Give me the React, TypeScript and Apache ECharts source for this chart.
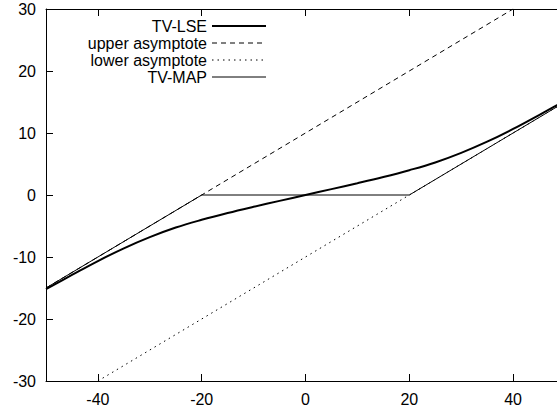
import React, { useEffect, useRef } from "react";
import * as echarts from "echarts";

// TV-LSE curve
const lseX = [-50, -45, -40, -35, -30, -25, -20, -15, -10, -5, 0, 5, 10, 15, 20, 25, 30, 35, 40, 45, 50];
const lseY = [-15.2, -12.9, -10.65, -8.6, -6.8, -5.25, -4.0, -2.9, -1.9, -0.95, 0, 0.95, 1.9, 2.9, 4.0, 5.25, 6.8, 8.6, 10.65, 12.9, 15.2];

// asymptotes
const upperX = [-50, 40];
const upperY = [-15, 30];
const lowerX = [-40, 50];
const lowerY = [-30, 15];

// TV-MAP
const mapX = [-50, -20, 20, 50];
const mapY = [-15, 0, 0, 15];

const xTicks = [-40, -20, 0, 20, 40];
const seriesNames = ["TV-LSE", "upper asymptote", "lower asymptote", "TV-MAP"];
const legendWidths = [2, 1, 1, 1];

const zip = (xs: number[], ys: number[]) => xs.map((x, i) => [x, ys[i]]);

const FONT = "Liberation Sans, Arial, Helvetica, sans-serif";

export default function App() {
  const ref = useRef<HTMLDivElement>(null);
  useEffect(() => {
    if (!ref.current) return;
    const chart = echarts.init(ref.current, null, { renderer: "svg" });
    const axisLine = { show: true, onZero: false, lineStyle: { color: "#000", width: 1 } };
    chart.setOption({
      animation: false,
      backgroundColor: "#fff",
      grid: {
        left: 46,
        top: 9,
        width: 519,
        height: 372,
        containLabel: false,
        outerBoundsMode: "none",
      },
      legend: {
        orient: "vertical",
        align: "right",
        right: 290,
        top: 18,
        padding: 0,
        itemWidth: 54,
        itemHeight: 10,
        itemGap: 1,
        itemStyle: { opacity: 0 },
        textStyle: { fontFamily: FONT, fontSize: 16, color: "#000" },
        data: seriesNames.map((n, i) => ({ name: n, lineStyle: { width: legendWidths[i] } })),
      },
      xAxis: [
        {
          type: "value",
          min: -50,
          max: 50,
          position: "bottom",
          axisLine,
          splitLine: { show: false },
          axisTick: { show: true, inside: true, length: 7, customValues: xTicks, lineStyle: { color: "#000" } },
          axisLabel: { customValues: xTicks, fontFamily: FONT, fontSize: 16, color: "#000", margin: 10 },
        },
        {
          type: "value",
          min: -50,
          max: 50,
          position: "top",
          axisLine,
          splitLine: { show: false },
          axisTick: { show: true, inside: true, length: 7, customValues: xTicks, lineStyle: { color: "#000" } },
          axisLabel: { show: false },
        },
      ],
      yAxis: [
        {
          type: "value",
          min: -30,
          max: 30,
          interval: 10,
          position: "left",
          axisLine,
          splitLine: { show: false },
          axisTick: { show: true, inside: true, length: 7, lineStyle: { color: "#000" } },
          axisLabel: { fontFamily: FONT, fontSize: 16, color: "#000", margin: 10 },
        },
      ],
      series: [
        {
          name: seriesNames[0],
          type: "line",
          data: zip(lseX, lseY),
          smooth: 0.4,
          showSymbol: false,
          symbol: "none",
          lineStyle: { color: "#000", width: 2 },
          itemStyle: { color: "#000" },
          z: 5,
        },
        {
          name: seriesNames[1],
          type: "line",
          data: zip(upperX, upperY),
          symbol: "none",
          lineStyle: { color: "#000", width: 1, type: [5, 4] },
          itemStyle: { color: "#000" },
        },
        {
          name: seriesNames[2],
          type: "line",
          data: zip(lowerX, lowerY),
          symbol: "none",
          lineStyle: { color: "#000", width: 1, type: [1.5, 4] },
          itemStyle: { color: "#000" },
        },
        {
          name: seriesNames[3],
          type: "line",
          data: zip(mapX, mapY),
          symbol: "none",
          lineStyle: { color: "#000", width: 1 },
          itemStyle: { color: "#000" },
        },
      ],
    });
    return () => chart.dispose();
  }, []);
  return (
    <div
      ref={ref}
      style={{ position: "fixed", left: 0, top: 0, width: 557, height: 410 }}
    />
  );
}
